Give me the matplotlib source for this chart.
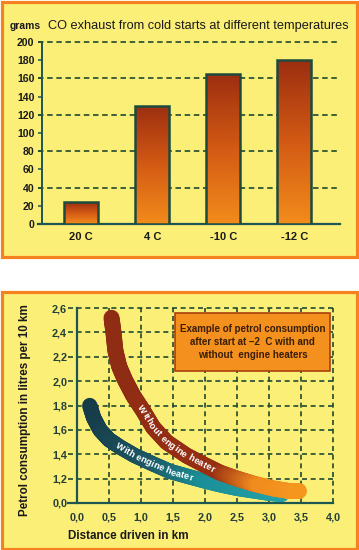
import numpy as np
import matplotlib
matplotlib.use('Agg')
import matplotlib.pyplot as plt
from matplotlib.patches import Rectangle
from matplotlib.collections import LineCollection
from matplotlib.colors import LinearSegmentedColormap, to_rgb
from matplotlib.font_manager import FontProperties

plt.rcParams['font.family'] = ['Liberation Sans', 'DejaVu Sans']

# ---------------- data ----------------
temps = ['20 C', '4 C', '-10 C', '-12 C']
co_grams = [24, 130, 165, 180]
co_yticks = [0, 20, 40, 60, 80, 100, 120, 140, 160, 180, 200]
co_grid = [40, 80, 120, 160, 200]

dist_ticks = [0.0, 0.5, 1.0, 1.5, 2.0, 2.5, 3.0, 3.5, 4.0]
dist_labels = ['0,0', '0,5', '1,0', '1,5', '2,0', '2,5', '3,0', '3,5', '4,0']
cons_ticks = [1.0, 1.2, 1.4, 1.6, 1.8, 2.0, 2.2, 2.4, 2.6]   # bottom tick is labelled 0,0 (broken axis)
cons_labels = ['0,0', '1,2', '1,4', '1,6', '1,8', '2,0', '2,2', '2,4', '2,6']

without_km = [0.54, 0.57, 0.60, 0.66, 0.75, 0.88, 1.03, 1.19, 1.40, 1.71, 2.00, 2.23, 2.50, 2.75, 3.06, 3.30, 3.47]
without_l  = [2.52, 2.40, 2.25, 2.12, 2.01, 1.88, 1.76, 1.62, 1.50, 1.39, 1.31, 1.25, 1.20, 1.16, 1.12, 1.10, 1.10]
with_km = [0.20, 0.26, 0.36, 0.50, 0.67, 0.90, 1.19, 1.45, 1.72, 2.00, 2.23, 2.50, 2.75, 3.00, 3.20]
with_l  = [1.80, 1.70, 1.60, 1.52, 1.46, 1.39, 1.32, 1.26, 1.22, 1.18, 1.15, 1.12, 1.10, 1.08, 1.07]

# ---------------- style ----------------
YELLOW = '#fcef78'
ORANGE = '#f5821f'
GRID = '#1f4a2e'
AXIS = '#1d5550'
BAR_EDGE = '#1d4a3c'

W, H = 359, 550
fig = plt.figure(figsize=(W / 100, H / 100), dpi=100)
fig.patch.set_facecolor('white')

def fx(px):
    return px / W

def fy(py):
    return 1 - py / H

def panel(x0, y0, x1, y1):
    r = Rectangle((fx(x0), fy(y1)), fx(x1) - fx(x0), (y1 - y0) / H,
                  transform=fig.transFigure, facecolor=YELLOW, edgecolor=ORANGE,
                  lw=2.3, zorder=-10)
    fig.patches.append(r)

panel(1.5, 1.5, 357.5, 256.5)
panel(1.5, 291.5, 356.5, 548.5)

# ---------------- top chart ----------------
ax1 = fig.add_axes([fx(38), fy(224), fx(340) - fx(38), (224 - 42) / H])
ax1.set_facecolor('none')
xl, xr = -0.606, 3.641
yaxis_x = -0.549
xs = np.arange(len(temps))
bars = ax1.bar(xs, co_grams, width=0.48, facecolor='none', edgecolor=BAR_EDGE,
               lw=1.8, zorder=4)
bar_cmap = LinearSegmentedColormap.from_list('bar', ['#f28c1c', '#d35a14', '#9c2e10'])
grad = np.linspace(0, 1, 256).reshape(-1, 1)
for b in bars:
    im = ax1.imshow(grad, extent=[b.get_x(), b.get_x() + b.get_width(), 0, b.get_height()],
                    origin='lower', aspect='auto', cmap=bar_cmap, zorder=3)
    im.set_clip_path(b)
ax1.hlines(co_grid, xl, xr, colors=GRID, linestyles=(0, (3.3, 2.2)), lw=1.2, zorder=2, clip_on=False)
ax1.set_xlim(xl, xr)
ax1.set_ylim(0, 200)
for s in ['top', 'right']:
    ax1.spines[s].set_visible(False)
ax1.spines['left'].set_position(('data', yaxis_x))
ax1.spines['left'].set_color(AXIS)
ax1.spines['left'].set_linewidth(1.4)
ax1.spines['bottom'].set_color(AXIS)
ax1.spines['bottom'].set_linewidth(1.6)
ax1.set_yticks(co_yticks)
ax1.set_xticks(xs)
ax1.set_xticklabels(temps)
ax1.tick_params(axis='y', direction='out', length=3, width=1.1, color=AXIS,
                labelsize=7.6, pad=2.5, labelcolor='#1a1a1a')
ax1.tick_params(axis='x', length=0, labelsize=8, pad=5.5, labelcolor='#1a1a1a')
for lab in ax1.get_yticklabels() + ax1.get_xticklabels():
    lab.set_fontweight('bold')

fig.text(fx(10), fy(26), 'grams', fontsize=7.4, fontweight='bold', color='#1a1a1a',
         ha='left', va='center')
fig.text(fx(48), fy(26), 'CO exhaust from cold starts at different temperatures',
         fontsize=9.2, color='#1a1a1a', ha='left', va='center')

# ---------------- bottom chart ----------------
ax2 = fig.add_axes([fx(68), fy(503), fx(333) - fx(68), (503 - 308) / H])
ax2.set_facecolor('none')
bx_l, bx_r = -0.14, 4.0

def pos(v):
    return (np.asarray(v, dtype=float) - 1.0) / 0.2

ax2.set_xlim(bx_l, bx_r)
ax2.set_ylim(0, 8)
dash = (0, (3.0, 2.2))
ax2.hlines(pos(cons_ticks[1:]), bx_l, bx_r, colors=GRID, linestyles=dash, lw=1.2, zorder=1, clip_on=False)
ax2.vlines(dist_ticks[1:], 0, 8, colors=GRID, linestyles=dash, lw=1.2, zorder=1, clip_on=False)
for s in ['top', 'right']:
    ax2.spines[s].set_visible(False)
ax2.spines['left'].set_position(('data', 0))
ax2.spines['left'].set_color(AXIS)
ax2.spines['left'].set_linewidth(1.6)
ax2.spines['bottom'].set_color(AXIS)
ax2.spines['bottom'].set_linewidth(1.6)
ax2.set_xticks(dist_ticks)
ax2.set_xticklabels(dist_labels)
ax2.set_yticks(pos(cons_ticks))
ax2.set_yticklabels(cons_labels)
ax2.tick_params(axis='both', length=0, labelsize=7.8, labelcolor='#243f38')
ax2.tick_params(axis='y', pad=7)
ax2.tick_params(axis='x', pad=6.5)
for lab in ax2.get_yticklabels() + ax2.get_xticklabels():
    lab.set_fontweight('bold')


def gradient_line(ax, xk, yv, stops, lw, z):
    xk = np.asarray(xk, float)
    yp = pos(yv)
    # split each drawn segment into sub-pieces so the colour can vary smoothly
    px, py = [], []
    for i in range(len(xk) - 1):
        t = np.linspace(0, 1, 8, endpoint=False)
        px.extend(xk[i] + (xk[i + 1] - xk[i]) * t)
        py.extend(yp[i] + (yp[i + 1] - yp[i]) * t)
    px.append(xk[-1]); py.append(yp[-1])
    px = np.array(px); py = np.array(py)
    pts = np.column_stack([px, py]).reshape(-1, 1, 2)
    segs = np.concatenate([pts[:-1], pts[1:]], axis=1)
    mids = (px[:-1] + px[1:]) / 2
    sx = [s[0] for s in stops]
    cols = np.array([to_rgb(s[1]) for s in stops])
    rgb = np.column_stack([np.interp(mids, sx, cols[:, k]) for k in range(3)])
    lc = LineCollection(segs, colors=rgb, linewidths=lw, capstyle='round',
                        joinstyle='round', zorder=z)
    ax.add_collection(lc)


gradient_line(ax2, with_km, with_l,
              [(0.2, '#163c48'), (1.2, '#1c5864'), (2.0, '#1a8e96'), (3.2, '#22a0a6')],
              11, 3)
gradient_line(ax2, without_km, without_l,
              [(0.5, '#8e2c14'), (2.2, '#962e12'), (2.85, '#f08a1e'), (3.5, '#f5981f')],
              11.5, 4)

renderer = fig.canvas.get_renderer()


def text_on_curve(ax, xk, yv, label, x_start, x_end, size):
    disp = ax.transData.transform(np.column_stack([xk, pos(yv)]))
    seg = np.hypot(np.diff(disp[:, 0]), np.diff(disp[:, 1]))
    cum = np.concatenate([[0], np.cumsum(seg)])
    s0 = np.interp(x_start, xk, cum)
    s1 = np.interp(x_end, xk, cum)
    prop = FontProperties(family='Liberation Sans', weight='bold', size=size)
    widths = []
    for ch in label:
        w, h, d = renderer.get_text_width_height_descent(ch if ch != ' ' else 'i', prop, ismath=False)
        widths.append(w)
    widths = np.array(widths)
    k = (s1 - s0) / widths.sum()
    centers = s0 + k * (np.cumsum(widths) - widths / 2)
    em = size * fig.dpi / 72
    inv = ax.transData.inverted()
    for ch, sc in zip(label, centers):
        if ch == ' ':
            continue
        px_ = np.interp(sc, cum, disp[:, 0]); py_ = np.interp(sc, cum, disp[:, 1])
        ax_ = np.interp(sc - 5, cum, disp[:, 0]); ay_ = np.interp(sc - 5, cum, disp[:, 1])
        bx_ = np.interp(sc + 5, cum, disp[:, 0]); by_ = np.interp(sc + 5, cum, disp[:, 1])
        th = np.arctan2(by_ - ay_, bx_ - ax_)
        off = 0.33 * em
        bxp = px_ + np.sin(th) * off
        byp = py_ - np.cos(th) * off
        dx, dy = inv.transform((bxp, byp))
        ax.text(dx, dy, ch, rotation=np.degrees(th), rotation_mode='anchor',
                ha='center', va='baseline', color='white', fontproperties=prop, zorder=6)


text_on_curve(ax2, without_km, without_l, 'Without engine heater', 0.98, 2.14, 6.6)
text_on_curve(ax2, with_km, with_l, 'With engine heater', 0.62, 1.80, 6.6)

box = Rectangle((1.53, pos(2.08)), 2.42, pos(2.56) - pos(2.08), facecolor='#f3901e',
                edgecolor='#a8400e', lw=1.2, zorder=5)
ax2.add_patch(box)
ax2.text(2.74, pos(2.32), 'Example of petrol consumption\nafter start at \u20132  C with and\nwithout  engine heaters',
         ha='center', va='center', fontsize=7, fontweight='bold', color='#3a1e05',
         linespacing=1.4, zorder=6)

fig.text(fx(25), fy(410), 'Petrol consumption in litres per 10 km', rotation=90,
         fontsize=8.4, fontweight='bold', color='#1a1a1a', ha='center', va='center')
fig.text(fx(68), fy(536), 'Distance driven in km', fontsize=8.4, fontweight='bold',
         color='#1a1a1a', ha='left', va='center')

fig.savefig('out.png', dpi=100)
